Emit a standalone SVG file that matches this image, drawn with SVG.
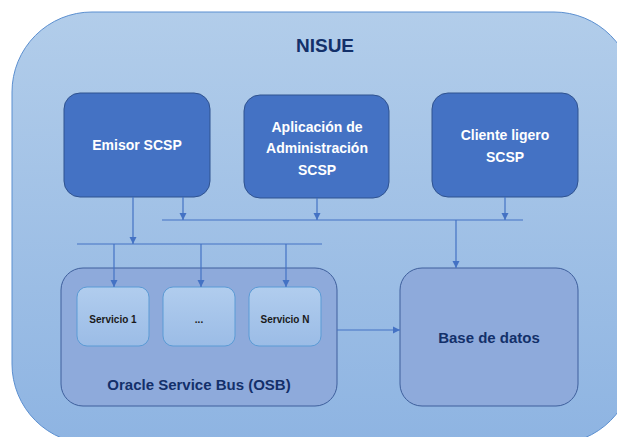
<svg xmlns="http://www.w3.org/2000/svg" width="617" height="437" viewBox="0 0 617 437">
<style>
.top{fill:#4472c4;stroke:#2f528f;stroke-width:1}
.wt{fill:#fff;font-family:"Liberation Sans",Arial,sans-serif;font-weight:bold;font-size:14px;text-anchor:middle}
.nv{fill:#13306a;font-family:"Liberation Sans",Arial,sans-serif;font-weight:bold;text-anchor:middle}
.svc{fill:url(#gs);stroke:#5b9bd5;stroke-width:1}
.bk{fill:#1a1a1a;font-family:"Liberation Sans",Arial,sans-serif;font-weight:bold;font-size:10px;text-anchor:middle}
.big{fill:#8eaadb;stroke:#3e5f9c;stroke-width:1}
.ln{stroke:#4472c4;stroke-width:1.2;fill:none}
.ar{stroke:#4472c4;stroke-width:1.2;fill:none;marker-end:url(#ah)}
</style>
<defs>
<linearGradient id="gb" x1="0" y1="0" x2="0" y2="1">
<stop offset="0" stop-color="#b2cdea"/>
<stop offset="1" stop-color="#8eb4e2"/>
</linearGradient>
<linearGradient id="gs" x1="0" y1="0" x2="0" y2="1">
<stop offset="0" stop-color="#b1cdee"/>
<stop offset="1" stop-color="#9bbce6"/>
</linearGradient>
<marker id="ah" viewBox="0 0 10 10" refX="10" refY="5" markerWidth="6" markerHeight="6" orient="auto">
<path d="M0,0 L10,5 L0,10 z" fill="#4472c4"/>
</marker>
</defs>
<g id="nisue">
<rect x="12" y="12" width="622" height="432" rx="80" ry="80" fill="url(#gb)" stroke="#5b8fd0" stroke-width="1"/>
<text class="nv" x="325" y="52" font-size="19">NISUE</text>
</g>
<g id="emisor">
<rect class="top" x="64" y="93" width="146" height="104" rx="16"/>
<text class="wt" x="137" y="150">Emisor SCSP</text>
</g>
<g id="aplicacion">
<rect class="top" x="244" y="95" width="145" height="103" rx="16"/>
<text class="wt" x="317" y="132">Aplicación de</text>
<text class="wt" x="317" y="153">Administración</text>
<text class="wt" x="317" y="175">SCSP</text>
</g>
<g id="cliente">
<rect class="top" x="432" y="93" width="146" height="104" rx="16"/>
<text class="wt" x="505" y="140">Cliente ligero</text>
<text class="wt" x="505" y="162">SCSP</text>
</g>
<g id="osb">
<rect class="big" x="61" y="268" width="276" height="138" rx="22"/>
<text class="nv" x="199" y="390" font-size="15">Oracle Service Bus (OSB)</text>
</g>
<g id="servicio1">
<rect class="svc" x="77" y="287" width="72" height="59" rx="10"/>
<text class="bk" x="113" y="323">Servicio 1</text>
</g>
<g id="servicio-dots">
<rect class="svc" x="163" y="287" width="72" height="59" rx="10"/>
<text class="bk" x="199" y="323">...</text>
</g>
<g id="servicioN">
<rect class="svc" x="249" y="287" width="72" height="59" rx="10"/>
<text class="bk" x="285" y="323">Servicio N</text>
</g>
<g id="basedatos">
<rect class="big" x="400" y="268" width="178" height="138" rx="22"/>
<text class="nv" x="489" y="343" font-size="15">Base de datos</text>
</g>
<g id="connectors">
<line class="ln" x1="162" y1="220" x2="523" y2="220"/>
<line class="ln" x1="77" y1="244" x2="322" y2="244"/>
<line class="ar" x1="133" y1="197" x2="133" y2="244"/>
<line class="ar" x1="183" y1="197" x2="183" y2="220"/>
<line class="ar" x1="317" y1="198" x2="317" y2="220"/>
<line class="ar" x1="505" y1="197" x2="505" y2="220"/>
<line class="ar" x1="456" y1="220" x2="456" y2="268"/>
<line class="ar" x1="114" y1="244" x2="114" y2="287"/>
<line class="ar" x1="201" y1="244" x2="201" y2="287"/>
<line class="ar" x1="286" y1="244" x2="286" y2="287"/>
<line class="ar" x1="337" y1="330" x2="400" y2="330"/>
</g>
</svg>
